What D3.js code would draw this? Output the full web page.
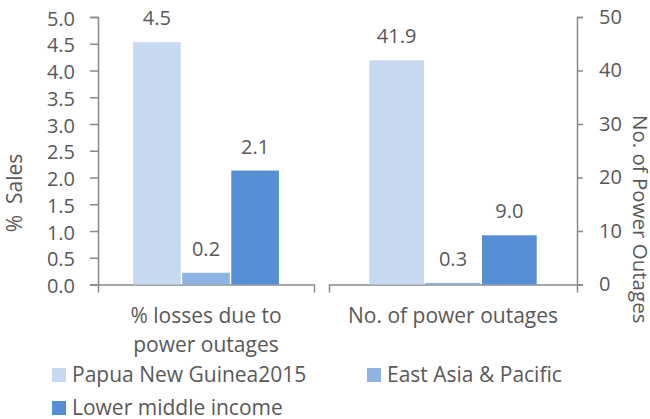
<!DOCTYPE html>
<html>
<head>
<meta charset="utf-8">
<script src="https://cdn.jsdelivr.net/npm/d3@7"></script>
<style>
  body { margin: 0; background: #fff; }
  text { font-family: "Open Sans", sans-serif; fill: #595959; }
  .axis path, .axis line { stroke: #898989; stroke-width: 1.5; }
</style>
</head>
<body>
<div id="app"></div>
<script>
const categories = ['% losses due to power outages', 'No. of power outages'];
const categoryLines = [['% losses due to', 'power outages'], ['No. of power outages']];
const series = ['Papua New Guinea2015', 'East Asia & Pacific', 'Lower middle income'];
const colors = ['#c6d9f1', '#8db4e2', '#558ed5'];
const lossValues = [4.53, 0.22, 2.13];
const outageValues = [41.9, 0.3, 9.2];
const lossLabels = ['4.5', '0.2', '2.1'];
const outageLabels = ['41.9', '0.3', '9.0'];
const leftTicks = [0, 0.5, 1, 1.5, 2, 2.5, 3, 3.5, 4, 4.5, 5];
const rightTicks = [0, 10, 20, 30, 40, 50];

const width = 650;
const height = 419;
const svg = d3.select('#app').append('svg')
  .attr('width', width)
  .attr('height', height);

const plotTop = 17, plotBottom = 284.5;
const yLeft = d3.scaleLinear().domain([0, 5]).range([plotBottom, plotTop]);
const yRight = d3.scaleLinear().domain([0, 50]).range([plotBottom, plotTop]);

// two panels, one per category, each with its own axis
const panels = [
  { x0: 98, x1: 314, y: yLeft, values: lossValues, labels: lossLabels },
  { x0: 329, x1: 577, y: yRight, values: outageValues, labels: outageLabels }
];

svg.append('g')
  .attr('class', 'axis')
  .attr('transform', `translate(${panels[0].x0},0)`)
  .call(d3.axisLeft(yLeft).tickValues(leftTicks).tickFormat(d3.format('.1f'))
    .tickSize(8).tickPadding(15))
  .call(g => g.selectAll('text').attr('font-size', 20).attr('dy', '0.4em')
    .style('font-family', '"Open Sans", sans-serif').attr('fill', '#595959'));

svg.append('g')
  .attr('class', 'axis')
  .attr('transform', `translate(${panels[1].x1},0)`)
  .call(d3.axisRight(yRight).tickValues(rightTicks).tickFormat(d3.format('d'))
    .tickSize(6).tickPadding(16))
  .call(g => g.selectAll('text').attr('font-size', 20).attr('dy', '0.32em')
    .style('font-family', '"Open Sans", sans-serif').attr('fill', '#595959'));

panels.forEach((p, i) => {
  const span = p.x1 - p.x0;
  const x = d3.scaleBand().domain(series)
    .range([p.x0 + span * 0.1625, p.x1 - span * 0.1625])
    .paddingInner(0.03);

  const xAxis = d3.scaleLinear().domain([0, 1]).range([p.x0, p.x1]);
  svg.append('g')
    .attr('class', 'axis')
    .attr('transform', `translate(0,${plotBottom})`)
    .call(d3.axisBottom(xAxis).tickValues([]).tickSizeOuter(8));

  const g = svg.append('g');
  g.selectAll('rect')
    .data(series)
    .enter().append('rect')
    .attr('x', d => x(d))
    .attr('width', x.bandwidth())
    .attr('y', (d, j) => p.y(p.values[j]))
    .attr('height', (d, j) => plotBottom - p.y(p.values[j]))
    .attr('fill', (d, j) => colors[j]);

  g.selectAll('text.value')
    .data(series)
    .enter().append('text')
    .attr('class', 'value')
    .attr('x', d => x(d) + x.bandwidth() / 2)
    .attr('y', (d, j) => p.y(p.values[j]) - 17)
    .attr('text-anchor', 'middle')
    .attr('font-size', 20)
    .text((d, j) => p.labels[j]);

  const cx = (p.x0 + p.x1) / 2;
  const lines = categoryLines[i];
  svg.append('text')
    .attr('text-anchor', 'middle')
    .attr('font-size', 21)
    .selectAll('tspan')
    .data(lines)
    .enter().append('tspan')
    .attr('x', cx)
    .attr('y', (d, k) => 323 + k * 29)
    .text(d => d);
});

// axis titles
svg.append('text')
  .attr('transform', 'translate(22,193) rotate(-90)')
  .attr('text-anchor', 'middle')
  .attr('font-size', 21)
  .style('white-space', 'pre')
  .text('%  Sales');

svg.append('text')
  .attr('transform', 'translate(633,115) rotate(90)')
  .attr('text-anchor', 'start')
  .attr('font-size', 20.5)
  .text('No. of Power Outages');

// legend
const legendPos = [[52, 368], [367, 368], [52, 401]];
const legend = svg.append('g')
  .selectAll('g')
  .data(series)
  .enter().append('g')
  .attr('transform', (d, i) => `translate(${legendPos[i][0]},${legendPos[i][1]})`);

legend.append('rect')
  .attr('width', 14)
  .attr('height', 14)
  .attr('fill', (d, i) => colors[i]);

legend.append('text')
  .attr('x', 20)
  .attr('y', 14)
  .attr('font-size', 21)
  .text(d => d);
</script>
</body>
</html>
